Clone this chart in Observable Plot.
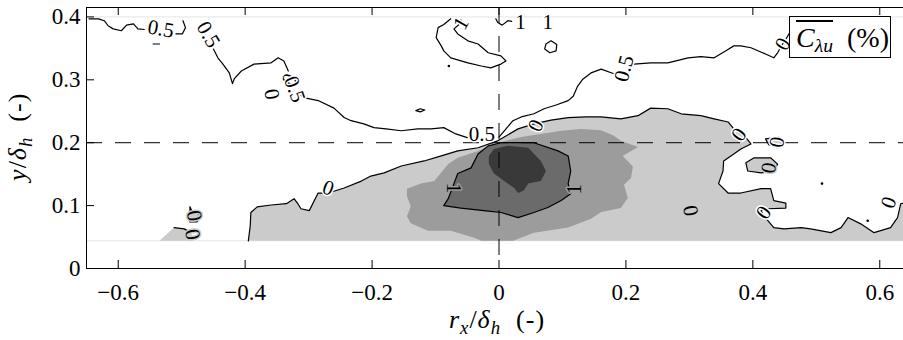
<!DOCTYPE html>
<html>
<head>
<meta charset="utf-8">
<script src="https://cdn.jsdelivr.net/npm/d3@7"></script>
<script src="https://cdn.jsdelivr.net/npm/@observablehq/plot@0.6"></script>
<style>
  html, body { margin: 0; padding: 0; background: #fff; overflow: hidden; }
  #fig { position: relative; width: 903px; height: 340px; font-family: "Liberation Serif", "DejaVu Serif", serif; color: #000; }
  #fig svg { position: absolute; left: 0; top: 0; }
  .lab { position: absolute; font-size: 26px; line-height: 26px; white-space: nowrap; text-align: center; letter-spacing: 1px; }
  .lab i { font-style: italic; }
  .sb { font-size: 0.72em; vertical-align: -0.3em; font-style: italic; }
  #xlab { left: 397px; width: 200px; top: 307px; }
  #ylab { left: -78px; width: 200px; top: 120px; transform: rotate(-90deg); transform-origin: 50% 50%; }
  #key { position: absolute; left: 789px; top: 16px; width: 102px; height: 42px; border: 1px solid #000; background: #fff;
         font-size: 28px; line-height: 28px; box-sizing: border-box; padding: 7px 0 0 6px; white-space: nowrap; }
  #key .bar { border-top: 2px solid #000; padding-top: 0px; }
  #key .sb { font-size: 0.7em; vertical-align: -0.28em; }
</style>
</head>
<body>
<div id="fig">
  <div class="lab" id="xlab"><i>r</i><span class="sb">x</span>/<i>δ</i><span class="sb">h</span>&nbsp; (-)</div>
  <div class="lab" id="ylab"><i>y</i>/<i>δ</i><span class="sb">h</span>&nbsp; (-)</div>
  <div id="key"><span class="bar"><i>C</i><span class="sb">λu</span></span>&nbsp; (%)</div>
</div>
<script>
// Axes
const X_DOMAIN = [-0.65, 0.65];
const Y_DOMAIN = [0, 0.415];
const xTicks = [-0.6, -0.4, -0.2, 0, 0.2, 0.4, 0.6];
const yTicks = [0, 0.1, 0.2, 0.3, 0.4];
const windowEdges = [0.044, 0.4];     // vertical extent of the measurement window
const refX = [0];                     // r_x = 0
const refY = [0.2];                   // y/δh = 0.2

// Filled correlation levels (polygons in r_x, y coordinates)
const level0Main = [[-0.395,0.044],[-0.392,0.068],[-0.391,0.089],[-0.381,0.098],[-0.359,0.101],[-0.335,0.103],[-0.323,0.111],[-0.317,0.103],[-0.312,0.095],[-0.299,0.092],[-0.285,0.120],[-0.269,0.120],[-0.244,0.128],[-0.217,0.139],[-0.202,0.147],[-0.181,0.152],[-0.154,0.163],[-0.118,0.171],[-0.091,0.179],[-0.065,0.187],[-0.033,0.192],[-0.002,0.203],[0.030,0.222],[0.055,0.230],[0.082,0.236],[0.109,0.240],[0.137,0.241],[0.161,0.241],[0.192,0.238],[0.219,0.243],[0.239,0.255],[0.266,0.254],[0.287,0.246],[0.318,0.243],[0.339,0.238],[0.361,0.233],[0.370,0.222],[0.386,0.212],[0.397,0.198],[0.381,0.190],[0.370,0.182],[0.354,0.171],[0.353,0.155],[0.346,0.135],[0.361,0.120],[0.381,0.120],[0.413,0.127],[0.428,0.127],[0.433,0.108],[0.452,0.104],[0.452,0.096],[0.424,0.095],[0.413,0.092],[0.417,0.084],[0.433,0.065],[0.449,0.063],[0.476,0.065],[0.491,0.063],[0.523,0.057],[0.539,0.065],[0.550,0.081],[0.570,0.071],[0.591,0.057],[0.617,0.065],[0.628,0.081],[0.633,0.103],[0.65,0.107]];
const level0Patch = [[-0.535,0.044],[-0.512,0.065],[-0.496,0.063],[-0.485,0.057],[-0.482,0.044]];
const level0Drop = [[-0.487,0.098],[-0.483,0.089],[-0.474,0.087],[-0.469,0.082],[-0.476,0.074],[-0.487,0.074],[-0.490,0.082],[-0.487,0.089],[-0.487,0.098]];
const level0Blob = [[0.389,0.168],[0.402,0.176],[0.428,0.176],[0.439,0.166],[0.433,0.155],[0.413,0.152],[0.392,0.155],[0.389,0.168]];
const level0Isle = [[0.420,0.206],[0.441,0.209],[0.447,0.200],[0.438,0.192],[0.425,0.197],[0.420,0.206]];
const levelHalf = [[-0.145,0.127],[-0.123,0.135],[-0.102,0.139],[-0.080,0.166],[-0.065,0.176],[-0.033,0.187],[-0.013,0.195],[0.003,0.201],[0.035,0.209],[0.066,0.214],[0.098,0.219],[0.129,0.222],[0.161,0.220],[0.181,0.211],[0.192,0.203],[0.219,0.193],[0.195,0.179],[0.211,0.162],[0.208,0.144],[0.197,0.133],[0.203,0.112],[0.192,0.096],[0.161,0.090],[0.145,0.079],[0.109,0.065],[0.055,0.057],[0.022,0.044],[-0.028,0.044],[-0.039,0.049],[-0.076,0.060],[-0.112,0.060],[-0.139,0.072],[-0.145,0.083],[-0.139,0.099],[-0.145,0.115]];
const levelOne = [[-0.087,0.100],[-0.080,0.111],[-0.071,0.135],[-0.065,0.151],[-0.044,0.160],[-0.033,0.182],[-0.017,0.195],[0.003,0.200],[0.055,0.200],[0.093,0.187],[0.109,0.179],[0.113,0.155],[0.109,0.135],[0.113,0.119],[0.098,0.108],[0.077,0.097],[0.055,0.089],[0.030,0.081],[0.003,0.089],[-0.024,0.092],[-0.060,0.096],[-0.087,0.100]];
const levelPeak = [[-0.016,0.179],[-0.008,0.190],[0.014,0.195],[0.046,0.192],[0.066,0.171],[0.074,0.155],[0.066,0.139],[0.046,0.135],[0.039,0.124],[0.030,0.120],[0.024,0.128],[0.008,0.139],[-0.008,0.151],[-0.016,0.166]];

// Contour lines that are not edges of a filled level
const half0Right = [[0.460,0.378],[0.454,0.368],[0.447,0.357],[0.439,0.343],[0.433,0.335],[0.420,0.341],[0.397,0.351],[0.381,0.354],[0.370,0.354],[0.357,0.346],[0.339,0.335],[0.318,0.337],[0.298,0.335],[0.266,0.327],[0.239,0.327],[0.213,0.325]];
const half0Mid = [[0.180,0.310],[0.161,0.317],[0.145,0.311],[0.132,0.301],[0.124,0.290],[0.117,0.274],[0.109,0.267],[0.090,0.260],[0.071,0.254],[0.055,0.246],[0.035,0.241],[0.022,0.235],[0.011,0.222],[0.000,0.209]];
const half0Left = [[-0.050,0.208],[-0.068,0.214],[-0.087,0.224],[-0.107,0.222],[-0.128,0.222],[-0.154,0.219],[-0.178,0.222],[-0.197,0.224],[-0.213,0.230],[-0.233,0.235],[-0.244,0.240],[-0.260,0.255],[-0.285,0.267],[-0.304,0.271],[-0.312,0.275]];
const half0Hook = [[-0.332,0.314],[-0.339,0.330],[-0.348,0.335],[-0.359,0.327],[-0.386,0.325],[-0.406,0.314],[-0.417,0.302],[-0.420,0.294],[-0.425,0.311],[-0.435,0.325],[-0.443,0.335],[-0.450,0.349]];
const half0Top = [[-0.646,0.397],[-0.631,0.397],[-0.622,0.394],[-0.616,0.386],[-0.608,0.381],[-0.595,0.378],[-0.587,0.387],[-0.576,0.389],[-0.569,0.381],[-0.559,0.380]];
const half0TopEnd = [[-0.509,0.373],[-0.499,0.373],[-0.494,0.383],[-0.498,0.394]];
const one0Loop = [[-0.076,0.397],[-0.087,0.388],[-0.096,0.383],[-0.099,0.367],[-0.091,0.354],[-0.087,0.346],[-0.076,0.335],[-0.049,0.327],[-0.028,0.322],[-0.013,0.319],[0.003,0.325],[0.011,0.330],[0.003,0.338],[-0.017,0.343],[-0.033,0.357],[-0.049,0.362],[-0.065,0.373],[-0.071,0.381],[-0.063,0.388],[-0.060,0.395]];
const one0Edge = [[-0.005,0.397],[-0.002,0.391],[0.005,0.387],[0.014,0.394],[0.020,0.393]];
const smallLoopA = [[0.074,0.357],[0.082,0.362],[0.091,0.356],[0.090,0.346],[0.080,0.343],[0.072,0.349],[0.074,0.357]];
const smallLoopB = [[-0.131,0.251],[-0.124,0.254],[-0.117,0.252],[-0.124,0.249],[-0.131,0.251]];
const smallLoopC = [[0.291,0.091],[0.302,0.098],[0.313,0.095],[0.307,0.087],[0.296,0.087],[0.291,0.091]];
const shortDash = [[-0.545,0.357],[-0.535,0.357]];
const specks = [[-0.079,0.322],[0.509,0.135],[0.581,0.076]];

// Inline contour labels: [r_x, y, text, rotation, background]
const contourLabels = [
  [-0.027, 0.213, "0.5", 0, "#fff"],
  [0.058, 0.227, "0", -65, "#fff"],
  [-0.269, 0.128, "0", 20, "#fff"],
  [0.378, 0.213, "0", -55, "#fff"],
  [0.438, 0.201, "0", -80, "#fff"],
  [0.425, 0.160, "0", -80, "#cbcbcb"],
  [0.417, 0.089, "0", -55, "#fff"],
  [0.614, 0.105, "0", -70, "#fff"],
  [0.302, 0.092, "0", 80, "#cbcbcb"],
  [-0.483, 0.054, "0", 80, "#cbcbcb"],
  [-0.480, 0.084, "0", 80, "#cbcbcb"],
  [-0.072, 0.128, "1", 90, "#9c9c9c"],
  [0.118, 0.126, "1", -90, "#9c9c9c"],
  [-0.533, 0.381, "0.5", 10, "#fff"],
  [-0.458, 0.372, "0.5", 60, "#fff"],
  [-0.330, 0.300, "0", -60, "#fff"],
  [-0.322, 0.285, "0.5", 70, "#fff"],
  [-0.358, 0.277, "0", 80, "#fff"],
  [0.197, 0.318, "0.5", -75, "#fff"],
  [0.447, 0.357, "0", -60, "#fff"],
  [0.034, 0.391, "1", 0, "#fff"],
  [0.077, 0.391, "1", 0, "#fff"],
  [-0.060, 0.390, "1", -60, "#fff"]
];

// Frame geometry
const W = 903, H = 340;
const M = {left: 86, right: -8, top: 7, bottom: 72};
const tickPx = 8;
const xPerPx = (X_DOMAIN[1] - X_DOMAIN[0]) / (W - M.left - M.right);
const yPerPx = (Y_DOMAIN[1] - Y_DOMAIN[0]) / (H - M.top - M.bottom);

const rows = (polys) => polys.flatMap((p, i) => p.map(([x, y]) => ({x, y, id: i})));
const closeTo = (pts, y0) => [...pts, [pts[pts.length - 1][0], y0]];
const fmt = (d) => String(d).replace("-", "\u2212");

const fillLayer = (polys, color) =>
  Plot.line(rows(polys), {x: "x", y: "y", z: "id", fill: color, stroke: "none", curve: "linear"});
const lineLayer = (polys, width = 1.2) =>
  Plot.line(rows(polys), {x: "x", y: "y", z: "id", stroke: "#000", strokeWidth: width, curve: "linear"});

const plot = Plot.plot({
  width: W,
  height: H,
  marginLeft: M.left,
  marginRight: M.right,
  marginTop: M.top,
  marginBottom: M.bottom,
  x: {domain: X_DOMAIN},
  y: {domain: Y_DOMAIN},
  style: {fontFamily: '"Liberation Serif", "DejaVu Serif", serif', fontSize: "23px", color: "#000", background: "transparent"},
  marks: [
    Plot.ruleY(windowEdges, {stroke: "#e4e4e4", strokeWidth: 1}),
    fillLayer([closeTo(level0Main, windowEdges[0]), level0Patch, level0Drop, level0Blob, level0Isle], "#cbcbcb"),
    fillLayer([levelHalf], "#9c9c9c"),
    fillLayer([levelOne], "#6b6b6b"),
    fillLayer([levelPeak], "#393939"),
    Plot.ruleX(refX, {stroke: "#000", strokeWidth: 1, strokeDasharray: "16,13"}),
    Plot.ruleY(refY, {stroke: "#000", strokeWidth: 1, strokeDasharray: "16,13"}),
    lineLayer([level0Main, level0Patch.slice(1, -1), level0Drop, level0Blob, level0Isle, levelOne]),
    lineLayer([half0Right, half0Mid, half0Left, half0Hook, half0Top, half0TopEnd, one0Loop, one0Edge, smallLoopA, smallLoopB, smallLoopC, shortDash]),
    Plot.dot(specks, {x: (d) => d[0], y: (d) => d[1], r: 1.3, fill: "#000", stroke: "none"}),
    Plot.text(contourLabels, {
      x: (d) => d[0], y: (d) => d[1], text: (d) => d[2], rotate: (d) => d[3],
      stroke: (d) => d[4], strokeWidth: 3, fill: "#000", fontSize: 21, paintOrder: "stroke"
    }),
    Plot.frame({stroke: "#000", strokeWidth: 1}),
    // inward tick marks on all four sides
    Plot.ruleX(xTicks, {y1: Y_DOMAIN[0], y2: Y_DOMAIN[0] + tickPx * yPerPx, stroke: "#000"}),
    Plot.ruleX(xTicks, {y1: Y_DOMAIN[1], y2: Y_DOMAIN[1] - tickPx * yPerPx, stroke: "#000"}),
    Plot.ruleY(yTicks, {x1: X_DOMAIN[0], x2: X_DOMAIN[0] + tickPx * xPerPx, stroke: "#000"}),
    Plot.ruleY(yTicks, {x1: X_DOMAIN[1], x2: X_DOMAIN[1] - tickPx * xPerPx, stroke: "#000"}),
    Plot.axisX({ticks: xTicks, tickSize: 0, tickPadding: 15, tickFormat: fmt, label: null, fontSize: 23}),
    Plot.axisY({ticks: yTicks, tickSize: 0, tickPadding: 6, tickFormat: fmt, label: null, fontSize: 23})
  ]
});

document.getElementById("fig").prepend(plot);
</script>
</body>
</html>
